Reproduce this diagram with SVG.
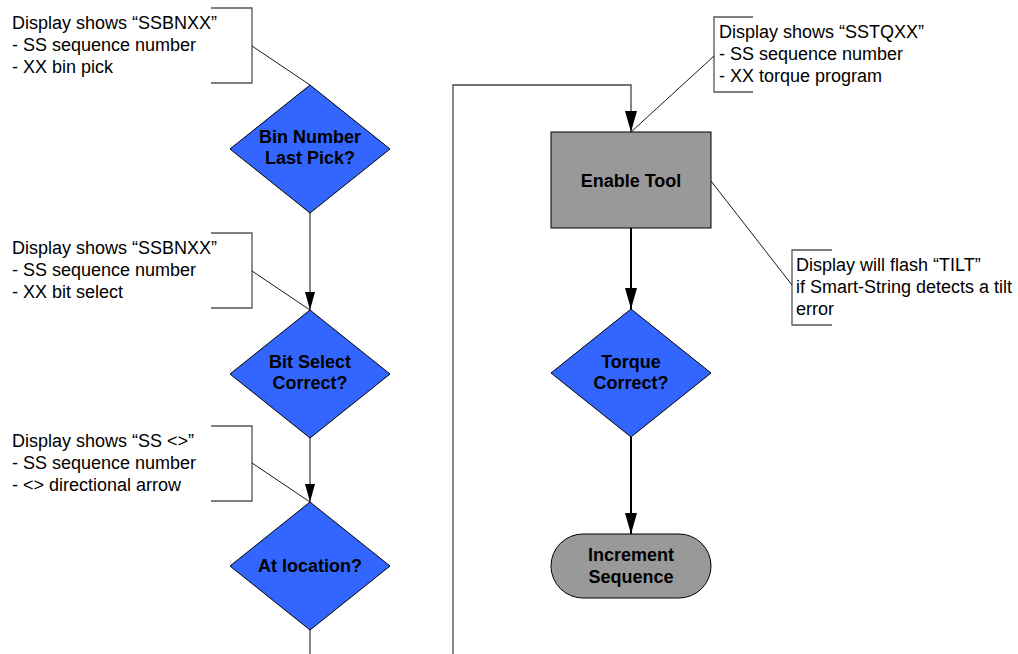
<svg xmlns="http://www.w3.org/2000/svg" width="1018" height="654" viewBox="0 0 1018 654">
<style>
.bg{fill:#ffffff}
.dia{fill:#3366ff;stroke:#000;stroke-width:1}
.proc{fill:#999999;stroke:#000;stroke-width:1}
.lbl{font-family:"Liberation Sans",Arial,sans-serif;font-size:18px;font-weight:bold;fill:#000;text-anchor:middle}
.note{font-family:"Liberation Sans",Arial,sans-serif;font-size:18px;fill:#000}
.brk{fill:none;stroke:#555;stroke-width:1.3}
.lead{fill:none;stroke:#000;stroke-width:0.9}
.thin{fill:none;stroke:#444;stroke-width:1.3}
.thick{fill:none;stroke:#000;stroke-width:2}
</style>
<defs>
<marker id="arrS" markerUnits="userSpaceOnUse" markerWidth="10" markerHeight="18" refX="5" refY="18" orient="auto-start-reverse" viewBox="0 0 10 18">
<path d="M0,0 L10,0 L5,18 Z" fill="#000" transform="rotate(0)"/>
</marker>
<marker id="arrL" markerUnits="userSpaceOnUse" markerWidth="12" markerHeight="21" refX="6" refY="21" viewBox="0 0 12 21" orient="0">
<path d="M0,0 L12,0 L6,21 Z" fill="#000"/>
</marker>
<marker id="arrD" markerUnits="userSpaceOnUse" markerWidth="10" markerHeight="18" refX="5" refY="18" viewBox="0 0 10 18" orient="0">
<path d="M0,0 L10,0 L5,18 Z" fill="#000"/>
</marker>
</defs>
<rect class="bg" x="0" y="0" width="1018" height="654"/>

<g id="connectors">
<line class="thin" x1="310" y1="213" x2="310" y2="310" marker-end="url(#arrD)"/>
<line class="thin" x1="310" y1="438" x2="310" y2="502" marker-end="url(#arrD)"/>
<line class="thin" x1="310" y1="630" x2="310" y2="654"/>
<polyline class="thin" points="453,654 453,85 631,85 631,132" marker-end="url(#arrL)"/>
<line class="thick" x1="631" y1="228" x2="631" y2="309" marker-end="url(#arrL)"/>
<line class="thick" x1="631" y1="437" x2="631" y2="534" marker-end="url(#arrL)"/>
</g>

<g id="note1">
<polyline class="brk" points="211,8 252,8 252,83 211,83"/>
<line class="lead" x1="252" y1="46" x2="310" y2="85"/>
<text class="note" x="12" y="29">Display shows “SSBNXX”</text>
<text class="note" x="12" y="51">- SS sequence number</text>
<text class="note" x="12" y="73">- XX bin pick</text>
</g>

<g id="note2">
<polyline class="brk" points="211,233 252,233 252,308 211,308"/>
<line class="lead" x1="252" y1="271" x2="310" y2="310"/>
<text class="note" x="12" y="254">Display shows “SSBNXX”</text>
<text class="note" x="12" y="276">- SS sequence number</text>
<text class="note" x="12" y="298">- XX bit select</text>
</g>

<g id="note3">
<polyline class="brk" points="211,426 252,426 252,501 211,501"/>
<line class="lead" x1="252" y1="463" x2="310" y2="502"/>
<text class="note" x="12" y="447">Display shows “SS &lt;&gt;”</text>
<text class="note" x="12" y="469">- SS sequence number</text>
<text class="note" x="12" y="491">- &lt;&gt; directional arrow</text>
</g>

<g id="note4">
<polyline class="brk" points="753,17 714,17 714,92 753,92"/>
<line class="lead" x1="714" y1="56" x2="631" y2="132"/>
<text class="note" x="719" y="38">Display shows “SSTQXX”</text>
<text class="note" x="719" y="60">- SS sequence number</text>
<text class="note" x="719" y="82">- XX torque program</text>
</g>

<g id="note5">
<polyline class="brk" points="832,250 792,250 792,325 832,325"/>
<line class="lead" x1="711" y1="181" x2="792" y2="285"/>
<text class="note" x="796" y="271">Display will flash “TILT”</text>
<text class="note" x="796" y="293">if Smart-String detects a tilt</text>
<text class="note" x="796" y="315">error</text>
</g>

<g id="binNumber">
<polygon class="dia" points="310,85 390,149 310,213 230,149"/>
<text class="lbl" x="310" y="143">Bin Number</text>
<text class="lbl" x="310" y="164">Last Pick?</text>
</g>

<g id="bitSelect">
<polygon class="dia" points="310,310 390,374 310,438 230,374"/>
<text class="lbl" x="310" y="368">Bit Select</text>
<text class="lbl" x="310" y="389">Correct?</text>
</g>

<g id="atLocation">
<polygon class="dia" points="310,502 390,566 310,630 230,566"/>
<text class="lbl" x="310" y="572">At location?</text>
</g>

<g id="enableTool">
<rect class="proc" x="551" y="132" width="160" height="96"/>
<text class="lbl" x="631" y="187">Enable Tool</text>
</g>

<g id="torqueCorrect">
<polygon class="dia" points="631,309 711,373 631,437 551,373"/>
<text class="lbl" x="631" y="368">Torque</text>
<text class="lbl" x="631" y="389">Correct?</text>
</g>

<g id="incrementSequence">
<rect class="proc" x="551" y="534" width="160" height="64" rx="32" ry="32"/>
<text class="lbl" x="631" y="561">Increment</text>
<text class="lbl" x="631" y="583">Sequence</text>
</g>
</svg>
